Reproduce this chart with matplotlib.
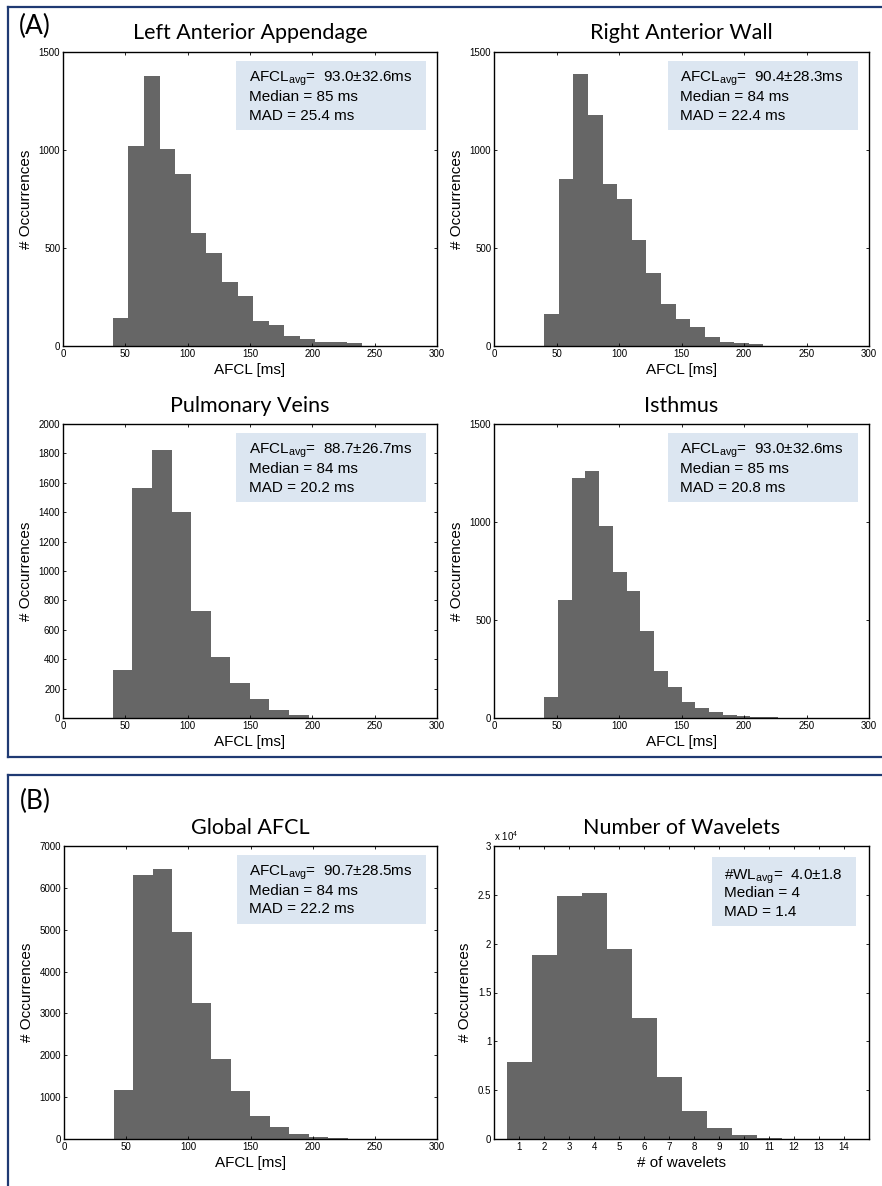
import numpy as np
import matplotlib
matplotlib.use("Agg")
import matplotlib.pyplot as plt
from matplotlib.patches import Rectangle
from matplotlib.lines import Line2D

plt.rcParams.update({
    "font.family": "Liberation Sans",
    "mathtext.default": "regular",
    "axes.linewidth": 1.0,
    "xtick.labelsize": 7,
    "ytick.labelsize": 7,
})

W, H = 882, 1186
TITLE_FONT = "Lato"
BAR_COLOR = "#666666"
BOX_COLOR = "#dce6f1"
FRAME_COLOR = "#1f3a73"

# histogram counts per region (AFCL bins start at 40 ms)
laa_counts = [143, 1018, 1379, 1006, 880, 577, 475, 327, 257, 128, 109, 51, 36, 22, 20, 15]
laa_bin0, laa_binw = 40, 12.5

raw_counts = [163, 853, 1389, 1180, 827, 751, 541, 373, 215, 138, 97, 46, 20, 17, 10]
raw_bin0, raw_binw = 40, 11.7

pv_counts = [325, 1568, 1820, 1398, 730, 416, 239, 130, 52, 18]
pv_bin0, pv_binw = 40, 15.7

isth_counts = [109, 602, 1223, 1262, 978, 743, 646, 446, 241, 160, 80, 53, 32, 17, 12, 5, 3, 2, 2, 1, 1, 1]
isth_bin0, isth_binw = 40, 11.0

glob_counts = [1177, 6308, 6451, 4948, 3253, 1917, 1153, 557, 294, 127, 56, 32]
glob_bin0, glob_binw = 40, 15.7

wl_counts = [7909, 18852, 24886, 25193, 19466, 12409, 6375, 2898, 1159, 409, 136, 30]
wl_values = list(range(1, 13))

laa_stats = ["AFCL$_{avg}$=  93.0\u00b132.6ms", "Median = 85 ms", "MAD = 25.4 ms"]
raw_stats = ["AFCL$_{avg}$=  90.4\u00b128.3ms", "Median = 84 ms", "MAD = 22.4 ms"]
pv_stats = ["AFCL$_{avg}$=  88.7\u00b126.7ms", "Median = 84 ms", "MAD = 20.2 ms"]
isth_stats = ["AFCL$_{avg}$=  93.0\u00b132.6ms", "Median = 85 ms", "MAD = 20.8 ms"]
glob_stats = ["AFCL$_{avg}$=  90.7\u00b128.5ms", "Median = 84 ms", "MAD = 22.2 ms"]
wl_stats = ["#WL$_{avg}$=  4.0\u00b11.8", "Median = 4", "MAD = 1.4"]

fig = plt.figure(figsize=(W / 100, H / 100), dpi=100)


def px_axes(l, t, r, b):
    return fig.add_axes([l / W, 1 - b / H, (r - l) / W, (b - t) / H])


def style(ax):
    ax.tick_params(direction="in", top=True, right=True, length=2.5, width=0.6, pad=2)
    for s in ax.spines.values():
        s.set_linewidth(1.0)


def stats_box(ax, lines, x0, x1, y0, y1, tx, baselines):
    ax.add_patch(Rectangle((x0, y0), x1 - x0, y1 - y0, transform=ax.transAxes,
                           facecolor=BOX_COLOR, edgecolor="none", zorder=3))
    for line, yb in zip(lines, baselines):
        ax.text(tx, yb, line, transform=ax.transAxes,
                fontsize=11, va="baseline", ha="left", zorder=4)


def afcl_hist(box, counts, bin0, binw, ymax, yticks, title, stats, title_y):
    ax = px_axes(*box)
    edges = bin0 + binw * np.arange(len(counts))
    ax.bar(edges, counts, width=binw, align="edge", color=BAR_COLOR, linewidth=0)
    ax.set_xlim(0, 300)
    ax.set_ylim(0, ymax)
    ax.set_xticks(range(0, 301, 50))
    ax.set_yticks(yticks)
    ax.set_xlabel("AFCL [ms]", fontsize=11, labelpad=3)
    ax.set_ylabel("# Occurrences", fontsize=11, labelpad=4)
    style(ax)
    stats_box(ax, stats, 0.463, 0.971, 0.735, 0.969, 0.497, (0.898, 0.833, 0.770))
    cx = (box[0] + box[2]) / 2 / W
    fig.text(cx, 1 - title_y / H, title, family=TITLE_FONT, fontsize=15.5,
             ha="center", va="center")
    return ax


afcl_hist((63, 52, 437, 346), laa_counts, laa_bin0, laa_binw, 1500, [0, 500, 1000, 1500],
          "Left Anterior Appendage", laa_stats, 33)
afcl_hist((494, 52, 869, 346), raw_counts, raw_bin0, raw_binw, 1500, [0, 500, 1000, 1500],
          "Right Anterior Wall", raw_stats, 33)
afcl_hist((63, 424, 437, 718), pv_counts, pv_bin0, pv_binw, 2000, range(0, 2001, 200),
          "Pulmonary Veins", pv_stats, 406)
afcl_hist((494, 424, 869, 718), isth_counts, isth_bin0, isth_binw, 1500, [0, 500, 1000, 1500],
          "Isthmus", isth_stats, 406)
afcl_hist((64, 846, 437, 1139), glob_counts, glob_bin0, glob_binw, 7000, range(0, 7001, 1000),
          "Global AFCL", glob_stats, 828)

# number of wavelets
ax = px_axes(494, 846, 869, 1139)
ax.bar(wl_values, np.array(wl_counts) / 1e4, width=1.0, color=BAR_COLOR, linewidth=0)
ax.set_xlim(0, 15)
ax.set_ylim(0, 3)
ax.set_xticks(range(1, 15))
ax.set_yticks([0, 0.5, 1, 1.5, 2, 2.5, 3])
ax.set_yticklabels(["0", "0.5", "1", "1.5", "2", "2.5", "3"])
ax.set_xlabel("# of wavelets", fontsize=11, labelpad=3)
ax.set_ylabel("# Occurrences", fontsize=11, labelpad=4)
style(ax)
ax.text(0.0, 1.01, "x 10$^{4}$", transform=ax.transAxes, fontsize=7, ha="left", va="bottom")
stats_box(ax, wl_stats, 0.581, 0.965, 0.727, 0.962, 0.612, (0.887, 0.826, 0.761))
fig.text((494 + 869) / 2 / W, 1 - 828 / H, "Number of Wavelets", family=TITLE_FONT,
         fontsize=15.5, ha="center", va="center")

# panel frames
def hline(x0, x1, y):
    fig.add_artist(Line2D([x0 / W, x1 / W], [1 - y / H, 1 - y / H], color=FRAME_COLOR, lw=1.6))


def vline(x, y0, y1):
    fig.add_artist(Line2D([x / W, x / W], [1 - y0 / H, 1 - y1 / H], color=FRAME_COLOR, lw=1.6))


hline(8, W, 7)
hline(8, W, 757)
vline(8, 7, 757)
hline(8, W, 775)
vline(8, 775, H)

fig.text(35 / W, 1 - 26 / H, "(A)", family=TITLE_FONT, fontsize=19, ha="center", va="center")
fig.text(35 / W, 1 - 801 / H, "(B)", family=TITLE_FONT, fontsize=19, ha="center", va="center")

fig.savefig("out.png", dpi=100)
